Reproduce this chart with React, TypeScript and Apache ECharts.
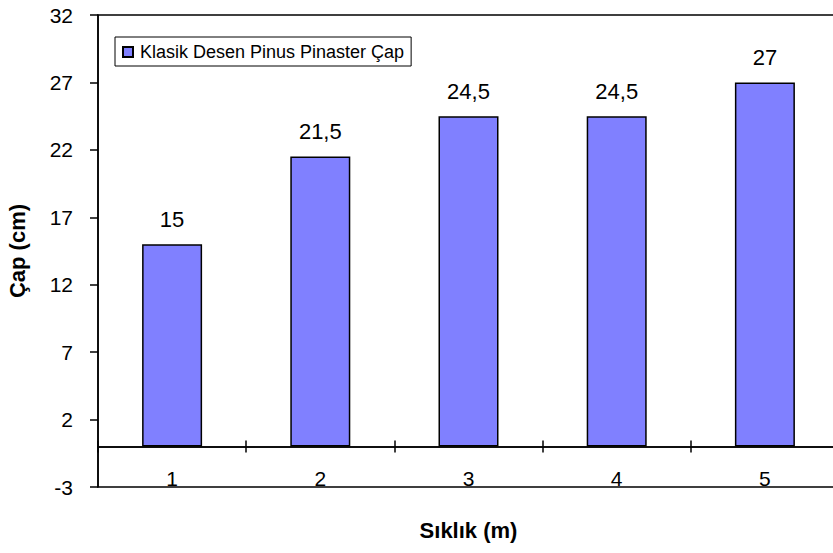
import React, { useEffect, useRef } from "react";
import * as echarts from "echarts";

// Spacing classes (m) and mean diameter (cm)
const categories = ["1", "2", "3", "4", "5"];
const diameters = [15, 21.5, 24.5, 24.5, 27];
const seriesName = "Klasik Desen Pinus Pinaster Çap";
const yMin = -3;
const yMax = 32;
const yStep = 5;

const FONT = "'Liberation Sans', Arial, sans-serif";

export default function App() {
  const ref = useRef<HTMLDivElement>(null);

  useEffect(() => {
    if (!ref.current) return;
    const chart = echarts.init(ref.current, null, { renderer: "svg" });
    const zeroLine = { show: true, onZero: true, onZeroAxisIndex: 0, lineStyle: { color: "#000", width: 1.5 } };
    chart.setOption({
      animation: false,
      backgroundColor: "#fff",
      textStyle: { fontFamily: FONT },
      grid: {
        left: 98,
        top: 15,
        right: -6,
        bottom: 66,
        containLabel: false,
        outerBoundsMode: "none",
        show: true,
        borderColor: "#000",
        borderWidth: 1.5,
        backgroundColor: "#fff",
      },
      legend: {
        left: 115,
        top: 37,
        orient: "horizontal",
        data: [seriesName],
        icon: "rect",
        itemWidth: 10,
        itemHeight: 10,
        itemGap: 0,
        padding: [6, 7, 5, 7],
        borderColor: "#000",
        borderWidth: 1,
        backgroundColor: "#fff",
        textStyle: { fontFamily: FONT, fontSize: 18, color: "#000", padding: [0, 0, 0, 2] },
      },
      xAxis: [
        {
          // category axis on the zero line; labels and name sit near the grid's bottom edge
          type: "category",
          data: categories,
          boundaryGap: true,
          axisLine: zeroLine,
          axisTick: { show: true, inside: false, length: 6, lineStyle: { color: "#000", width: 1.5 } },
          axisLabel: { fontFamily: FONT, fontSize: 21, color: "#000", margin: -19 },
          splitLine: { show: false },
          name: "Sıklık (m)",
          nameLocation: "middle",
          nameGap: 32,
          nameTextStyle: { fontFamily: FONT, fontSize: 22, fontWeight: "bold", color: "#000" },
        },
        {
          // same axis again, only for the upper half of the crossing ticks
          type: "category",
          data: categories,
          boundaryGap: true,
          position: "bottom",
          axisLine: zeroLine,
          axisTick: { show: true, inside: true, length: 6, lineStyle: { color: "#000", width: 1.5 } },
          axisLabel: { show: false },
          splitLine: { show: false },
        },
      ],
      yAxis: {
        type: "value",
        min: yMin,
        max: yMax,
        interval: yStep,
        axisLine: { show: true, onZero: false, lineStyle: { color: "#000", width: 1.5 } },
        axisTick: { show: true, inside: false, length: 8, lineStyle: { color: "#000", width: 1.5 } },
        axisLabel: { fontFamily: FONT, fontSize: 21, color: "#000", margin: 25 },
        splitLine: { show: false },
        name: "Çap (cm)",
        nameLocation: "middle",
        nameGap: 70,
        nameTextStyle: { fontFamily: FONT, fontSize: 22, fontWeight: "bold", color: "#000" },
      },
      series: [
        {
          name: seriesName,
          type: "bar",
          xAxisIndex: 0,
          data: diameters,
          barWidth: 60,
          itemStyle: { color: "#8080FF", borderColor: "#000", borderWidth: 1.5 },
          label: {
            show: true,
            position: "top",
            distance: 14,
            fontFamily: FONT,
            fontSize: 22,
            color: "#000",
            formatter: (p: any) => String(p.value).replace(".", ","),
          },
        },
      ],
    });
    return () => chart.dispose();
  }, []);

  return (
    <div
      ref={ref}
      style={{ position: "absolute", left: 0, top: 0, width: 833, height: 553 }}
    />
  );
}
